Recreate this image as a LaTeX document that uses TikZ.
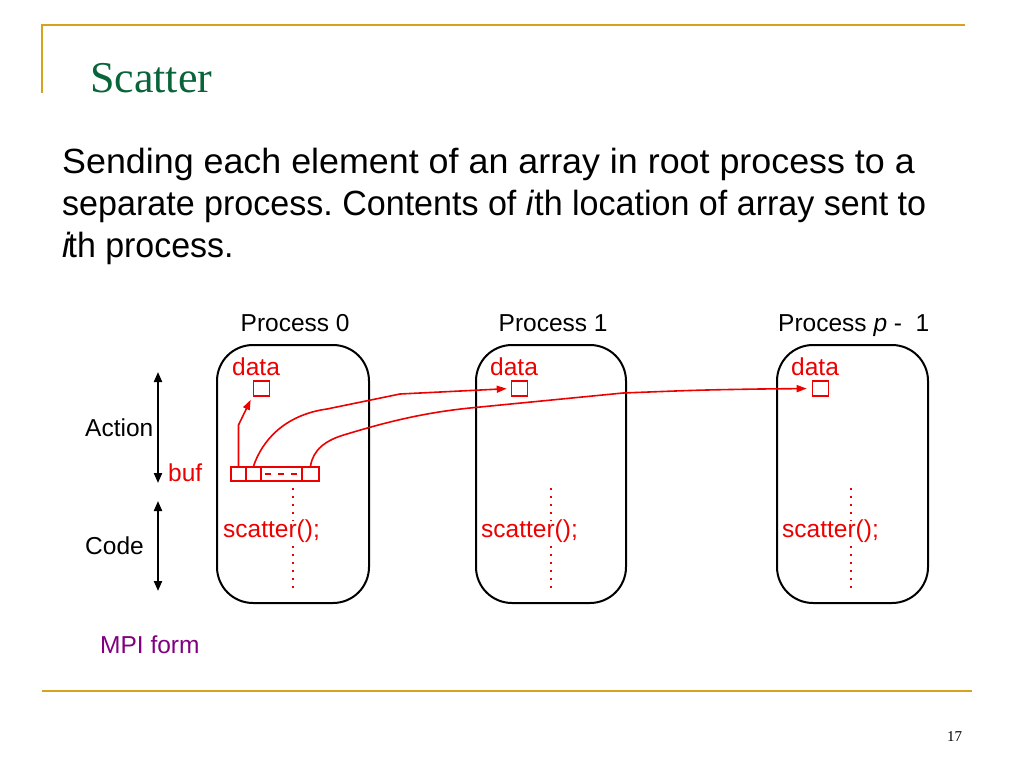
\documentclass[tikz,border=0pt]{standalone}
\usepackage{fontspec}
\setmainfont{Liberation Sans}
\newfontfamily\titleserif{Liberation Serif}
\usetikzlibrary{arrows.meta}
\frenchspacing
\definecolor{gold}{RGB}{214,162,32}
\definecolor{titlegreen}{RGB}{10,100,58}
\definecolor{mpired}{RGB}{236,0,0}
\definecolor{mpipurple}{RGB}{128,0,128}
\tikzset{
  txt/.style={inner sep=0pt, anchor=base west},
  body/.style={txt, font=\fontsize{35}{40}\selectfont},
  lbl/.style={txt, font=\fontsize{24.5}{28}\selectfont},
  redlbl/.style={lbl, text=mpired},
  procbox/.style={draw, line width=2pt, rounded corners=36pt, minimum height=258pt, inner sep=0pt},
  datasq/.style={draw=mpired, line width=1.6pt, minimum width=16pt, minimum height=15pt, inner sep=0pt},
  bufcell/.style={draw=mpired, line width=1.6pt, minimum height=14pt, inner sep=0pt},
  redarrow/.style={draw=mpired, line width=1.6pt, -{Triangle[length=10pt,width=7pt]}},
  reddots/.style={draw=mpired, line width=2pt, dash pattern=on 2pt off 6pt},
  blackarrow/.style={line width=2pt, {Triangle[length=10pt,width=8pt]}-{Triangle[length=10pt,width=8pt]}},
  goldline/.style={draw=gold, line width=2.5pt}
}
\begin{document}
\begin{tikzpicture}[x=1pt,y=-1pt]
\useasboundingbox (0,0) rectangle (1024,768);
% frame lines
\coordinate (tl) at (42,25);
\coordinate (tr) at (965,25);
\coordinate (tb) at (42,93);
\coordinate (bl) at (42,691);
\coordinate (br) at (972,691);
\draw[goldline] (tb) -- (tl) -- (tr);
\draw[goldline] (bl) -- (br);
% title
\node[txt, font=\titleserif\fontsize{44}{50}\selectfont, text=titlegreen] (title) at (90,92) {Scatter};
% body text
\node[body] (l1) at (62,173) {\scalebox{1.024}[1]{Sending each element of an array in root process to a}};
\node[body] (l2) at (62,215) {\scalebox{0.973}[1]{separate process. Contents of \textit{i}th location of array sent to}};
\node[body] (l3) at (62,257) {\scalebox{0.97}[1]{\textit{i}\kern-3pt th process.}};
% process labels
\node[lbl] (p0) at (240.5,331) {Process 0};
\node[lbl] (p1) at (498.5,331) {Process 1};
\node[lbl] (p2) at (778,331) {Process \textit{p} -\ \ 1};
% process boxes
\node[procbox, minimum width=152pt] (b0) at (293,474) {};
\node[procbox, minimum width=150pt] (b1) at (551,474) {};
\node[procbox, minimum width=151pt] (b2) at (852.5,474) {};
% data labels and squares
\node[redlbl] (dl0) at (232,375) {data};
\node[redlbl] (dl1) at (490,375) {data};
\node[redlbl] (dl2) at (791,375) {data};
\node[datasq] (d0) at (261.5,388.5) {};
\node[datasq] (d1) at (519.5,388.5) {};
\node[datasq] (d2) at (820.5,388.5) {};
% buf cells
\node[bufcell, minimum width=15pt] (c0) at (238.5,474) {};
\node[bufcell, minimum width=15pt] (c1) at (253.5,474) {};
\node[bufcell, minimum width=41pt] (c2) at (281.5,474) {};
\node[bufcell, minimum width=17pt] (c3) at (310.5,474) {};
\draw[draw=mpired, line width=1.6pt, dash pattern=on 6pt off 7pt] ([xshift=5pt]c2.west) -- ([xshift=-3pt]c2.east);
\node[redlbl] (buf) at (168,481) {buf};
% arrows from buf
\draw[redarrow] (c0.north) -- (238.5,425) -- ([xshift=-2pt,yshift=-3pt]d0.south west);
\draw[redarrow, shorten >=4pt] (c1.north) .. controls (262,441) and (284,415) .. (327,409) -- (400,394) -- (d1.west);
\draw[redarrow, shorten >=5pt] (c3.north) .. controls (313,450) and (325,440) .. (347,434) .. controls (380,424) and (420,413) .. (470,408) -- (623,393) .. controls (700,390) .. (760,389) -- (d2.west);
% dotted lines and scatter
\coordinate (t0a) at (293,488); \coordinate (t0b) at (293,521);
\coordinate (t0c) at (293,546); \coordinate (t0d) at (293,592);
\draw[reddots] (t0a) -- (t0b); \draw[reddots] (t0c) -- (t0d);
\coordinate (t1a) at (551,488); \coordinate (t1b) at (551,521);
\coordinate (t1c) at (551,546); \coordinate (t1d) at (551,592);
\draw[reddots] (t1a) -- (t1b); \draw[reddots] (t1c) -- (t1d);
\coordinate (t2a) at (851,488); \coordinate (t2b) at (851,521);
\coordinate (t2c) at (851,546); \coordinate (t2d) at (851,592);
\draw[reddots] (t2a) -- (t2b); \draw[reddots] (t2c) -- (t2d);
\node[redlbl] (s0) at (223,537) {scatter();};
\node[redlbl] (s1) at (481,537) {scatter();};
\node[redlbl] (s2) at (782,537) {scatter();};
% left arrows
\coordinate (aa) at (158,372); \coordinate (ab) at (158,483);
\coordinate (ca) at (158,501); \coordinate (cb) at (158,591);
\draw[blackarrow] (aa) -- (ab);
\draw[blackarrow] (ca) -- (cb);
\node[lbl] (action) at (85,436) {Action};
\node[lbl] (code) at (85,554) {Code};
% MPI form
\node[lbl, text=mpipurple] (mpi) at (100,653) {MPI form};
% page number
\node[inner sep=0pt, anchor=base, font=\titleserif\fontsize{15}{18}\selectfont] (pg) at (954.5,741) {17};
\end{tikzpicture}
\end{document}
